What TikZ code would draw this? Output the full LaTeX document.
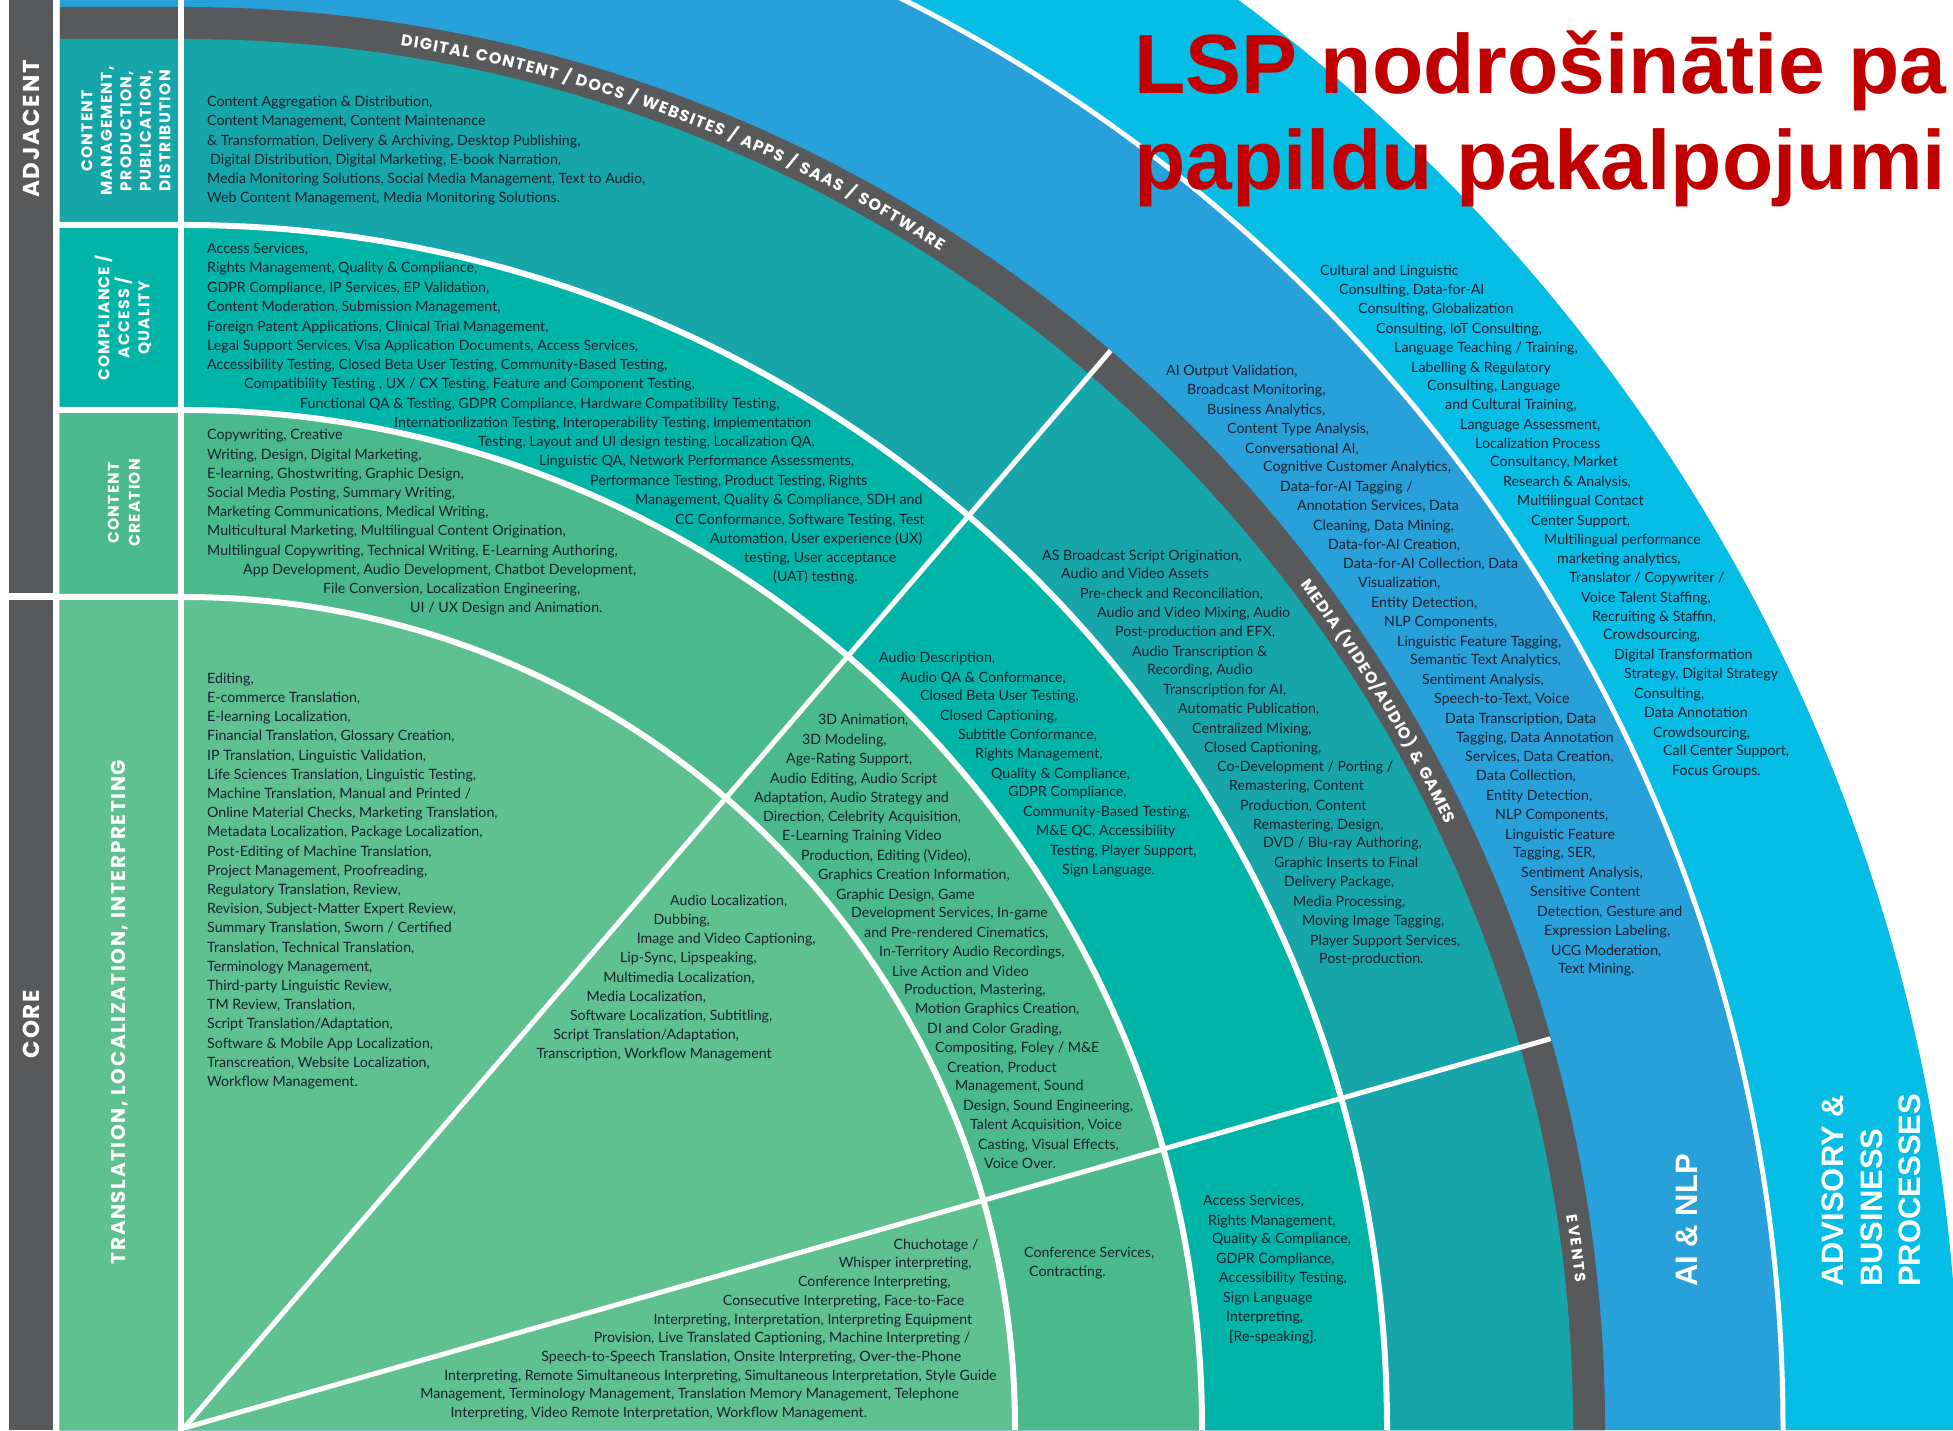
\documentclass[tikz,border=0pt]{standalone}
\usepackage{fontspec}
\setmainfont{Lato}
\newfontfamily\lblfont[LetterSpace=8]{Poppins}
\newfontfamily\gbfont{Poppins}
\newfontfamily\titlefont{Liberation Sans}
\usetikzlibrary{decorations.text}
\definecolor{cCyan}{RGB}{6,189,230}
\definecolor{cBlue}{RGB}{40,160,218}
\definecolor{cGrey}{RGB}{88,89,91}
\definecolor{cTealD}{RGB}{22,165,168}
\definecolor{cTeal}{RGB}{0,181,168}
\definecolor{cGreenB}{RGB}{74,186,141}
\definecolor{cGreenA}{RGB}{95,192,144}
\definecolor{cRed}{RGB}{192,0,0}
\definecolor{cText}{RGB}{24,32,46}
\newcommand\Ln[3]{\node[bodytxt,anchor=west] at (#1,#2) {#3};}
\newcommand\ringfill[2]{\fill[#1] (-124,-2) -- (-124,#2) -- (0,#2) arc[start angle=90,end angle=0,radius=#2] -- (#2,-2) -- cycle;}
\begin{document}
\begin{tikzpicture}[x=1pt,y=1pt,
  bodytxt/.style={font=\fontsize{14.2}{16}\selectfont, text=cText, inner sep=0pt, text height=9.5pt, text depth=3pt},
  collbl/.style={rotate=90, text=white, align=center, inner sep=0pt},
  bandtxt/.style={decorate, decoration={text along path, text color=white, text align={fit to path}}}]
\useasboundingbox (-184,-2) rectangle (1769,1428);
\clip (-184,-2) rectangle (1769,1428);
\fill[white] (-184,-2) rectangle (1769,1428);
% rings
\fill[cCyan] (0,-2) -- (1775,-2) -- (1775,0) arc[start angle=0,end angle=90,radius=1775] -- cycle;
\ringfill{cBlue}{1599}
\ringfill{cGrey}{1421}
\ringfill{cTealD}{1389}
\ringfill{cTeal}{1203}
\ringfill{cGreenB}{1018}
\ringfill{cGreenA}{831}
% white separators
\draw[white,line width=5pt] (1599,-2) -- (1599,0) arc[start angle=0,end angle=90,radius=1599];
\foreach \r in {831,1018,1203} {\draw[white,line width=6pt] (-128,\r) -- (0,\r) arc[start angle=90,end angle=0,radius=\r] -- (\r,-2);}
\draw[white,line width=6pt] (-3,-4) -- (-3,1432);
\draw[white,line width=5pt] (0,0) -- (49.3:1421);
\draw[white,line width=5pt] (0,0) -- (15.9:1421);
% left bars
\fill[cGrey] (-175,835) rectangle (-131,1430);
\fill[cGrey] (-175,-2) rectangle (-131,828);
% grey band texts
\path[bandtxt, decoration={text={|\gbfont\bfseries\fontsize{16}{16}\selectfont|DIGITAL CONTENT / DOCS / WEBSITES / APPS / SAAS / SOFTWARE}}] (81.1:1399) arc[start angle=81.1,end angle=57.3,radius=1399];
\path[bandtxt, decoration={text={|\gbfont\bfseries\fontsize{16}{16}\selectfont|MEDIA (VIDEO/AUDIO) {\&} GAMES}}] (37.06:1399) arc[start angle=37.06,end angle=25.56,radius=1399];
\path[bandtxt, decoration={text={|\gbfont\bfseries\fontsize{15}{15}\selectfont|EVENTS}}] (8.72:1399) arc[start angle=8.72,end angle=5.97,radius=1399];
% column labels
\node[collbl, font=\lblfont\bfseries\fontsize{23}{23}\selectfont] (adj) at (-153,1299) {ADJACENT};
\node[collbl, font=\lblfont\bfseries\fontsize{23}{23}\selectfont] (core) at (-153,404) {CORE};
\node[collbl, font=\lblfont\bfseries\fontsize{15.5}{19.5}\selectfont] (cm) at (-58,1297) {CONTENT\\MANAGEMENT,\\PRODUCTION,\\PUBLICATION,\\DISTRIBUTION};
\node[collbl, font=\lblfont\bfseries\fontsize{15.5}{20}\selectfont] (caq) at (-61,1110) {COMPLIANCE /\\ACCESS /\\QUALITY};
\node[collbl, font=\lblfont\bfseries\fontsize{15.5}{21}\selectfont] (cc) at (-60,925) {CONTENT\\CREATION};
\node[collbl, font=\lblfont\bfseries\fontsize{20}{22}\selectfont] (tli) at (-64,416) {TRANSLATION, LOCALIZATION, INTERPRETING};
% outer band labels
\node[rotate=90, anchor=base west, inner sep=0pt, text=white, font=\titlefont\bfseries\fontsize{31}{31}\selectfont] (ainlp) at (1513,141) {AI \& NLP};
\node[rotate=90, anchor=base west, inner sep=0pt, text=white, font=\titlefont\bfseries\fontsize{31}{31}\selectfont] (adv1) at (1659,141) {ADVISORY \&};
\node[rotate=90, anchor=base west, inner sep=0pt, text=white, font=\titlefont\bfseries\fontsize{31}{31}\selectfont] (adv2) at (1698,141) {BUSINESS};
\node[rotate=90, anchor=base west, inner sep=0pt, text=white, font=\titlefont\bfseries\fontsize{31}{31}\selectfont] (adv3) at (1736,141) {PROCESSES};
% body texts in image coordinates
\begin{scope}[shift={(-184,1428)}, yscale=-1]
% content management
\Ln{207}{103}{Content Aggregation \& Distribution,}
\Ln{207}{122}{Content Management, Content Maintenance}
\Ln{207}{142}{\& Transformation, Delivery \& Archiving, Desktop Publishing,}
\Ln{210}{161}{Digital Distribution, Digital Marketing, E-book Narration,}
\Ln{207}{180}{Media Monitoring Solutions, Social Media Management, Text to Audio,}
\Ln{207}{199}{Web Content Management, Media Monitoring Solutions.}
% compliance
\Ln{207}{250}{Access Services,}
\Ln{207}{269}{Rights Management, Quality \& Compliance,}
\Ln{207}{289}{GDPR Compliance, IP Services, EP Validation,}
\Ln{207}{308}{Content Moderation, Submission Management,}
\Ln{207}{328}{Foreign Patent Applications, Clinical Trial Management,}
\Ln{207}{347}{Legal Support Services, Visa Application Documents, Access Services,}
\Ln{207}{366}{Accessibility Testing, Closed Beta User Testing, Community-Based Testing,}
\Ln{244}{385}{Compatibility Testing , UX / CX Testing, Feature and Component Testing,}
\Ln{300}{405}{Functional QA \& Testing, GDPR Compliance, Hardware Compatibility Testing,}
\Ln{394}{424}{Internationlization Testing, Interoperability Testing, Implementation}
\Ln{478}{443}{Testing, Layout and UI design testing, Localization QA,}
\Ln{539}{462}{Linguistic QA, Network Performance Assessments,}
\Ln{590}{482}{Performance Testing, Product Testing, Rights}
\Ln{635}{501}{Management, Quality \& Compliance, SDH and}
\Ln{675}{521}{CC Conformance, Software Testing, Test}
\Ln{710}{540}{Automation, User experience (UX)}
\Ln{744}{559}{testing, User acceptance}
\Ln{773}{578}{(UAT) testing.}
% content creation
\Ln{207}{436}{Copywriting, Creative}
\Ln{207}{456}{Writing, Design, Digital Marketing,}
\Ln{207}{475}{E-learning, Ghostwriting, Graphic Design,}
\Ln{207}{494}{Social Media Posting, Summary Writing,}
\Ln{207}{513}{Marketing Communications, Medical Writing,}
\Ln{207}{532}{Multicultural Marketing, Multilingual Content Origination,}
\Ln{207}{552}{Multilingual Copywriting, Technical Writing, E-Learning Authoring,}
\Ln{243}{571}{App Development, Audio Development, Chatbot Development,}
\Ln{323}{590}{File Conversion, Localization Engineering,}
\Ln{410}{609}{UI / UX Design and Animation.}
% translation core
\foreach \t [count=\i from 0] in {{Editing,},{E-commerce Translation,},{E-learning Localization,},{Financial Translation, Glossary Creation,},{IP Translation, Linguistic Validation,},{Life Sciences Translation, Linguistic Testing,},{Machine Translation, Manual and Printed /},{Online Material Checks, Marketing Translation,},{Metadata Localization,  Package Localization,},{Post-Editing of Machine Translation,},{Project Management, Proofreading,},{Regulatory Translation, Review,},{Revision, Subject-Matter Expert Review,},{Summary Translation, Sworn / Certified},{Translation, Technical Translation,},{Terminology Management,},{Third-party Linguistic Review,},{TM Review, Translation,},{Script Translation/Adaptation,},{Software \& Mobile App Localization,},{Transcreation, Website Localization,},{Workflow Management.}}
  {\node[bodytxt,anchor=west] at (207,{680+19.2*\i}) {\t};}
% audio localization (core)
\foreach \t [count=\i from 0] in {{Audio Localization,},{Dubbing,},{Image and Video Captioning,},{Lip-Sync, Lipspeaking,},{Multimedia Localization,},{Media Localization,},{Software Localization, Subtitling,},{Script Translation/Adaptation,},{Transcription, Workflow Management}}
  {\node[bodytxt,anchor=west] at ({670-16.7*\i},{902+19.2*\i}) {\t};}
% interpreting (core)
\foreach \t [count=\i from 0] in {{Chuchotage /},{Whisper interpreting,},{Conference Interpreting,},{Consecutive Interpreting, Face-to-Face},{Interpreting, Interpretation, Interpreting Equipment},{Provision, Live Translated Captioning, Machine Interpreting /},{Speech-to-Speech Translation, Onsite Interpreting, Over-the-Phone},{Interpreting, Remote Simultaneous Interpreting, Simultaneous Interpretation, Style Guide},{Management, Terminology Management, Translation Memory Management,  Telephone},{Interpreting, Video Remote Interpretation, Workflow Management.}}
  {\node[bodytxt,anchor=center] at ({936-30.8*\i},{1246+18.7*\i}) {\t};}
% media creation
\Ln{818}{721}{3D Animation,}
\Ln{802}{741}{3D Modeling,}
\Ln{786}{760}{Age-Rating Support,}
\Ln{770}{780}{Audio Editing, Audio Script}
\Ln{754}{799}{Adaptation, Audio Strategy and}
\Ln{763}{818}{Direction, Celebrity Acquisition,}
\Ln{782}{837}{E-Learning Training Video}
\Ln{801}{857}{Production, Editing (Video),}
\Ln{818}{876}{Graphics Creation Information,}
\Ln{836}{896}{Graphic Design, Game}
\Ln{851}{914}{Development Services, In-game}
\Ln{864}{934}{and Pre-rendered Cinematics,}
\Ln{879}{953}{In-Territory Audio Recordings,}
\Ln{892}{973}{Live Action and Video}
\Ln{904}{991}{Production, Mastering,}
\Ln{915}{1010}{Motion Graphics Creation,}
\Ln{927}{1030}{DI and Color Grading,}
\Ln{935}{1049}{Compositing, Foley / M\&E}
\Ln{947}{1069}{Creation, Product}
\Ln{955}{1087}{Management, Sound}
\Ln{963}{1107}{Design, Sound Engineering,}
\Ln{970}{1126}{Talent Acquisition, Voice}
\Ln{978}{1146}{Casting, Visual Effects,}
\Ln{984}{1165}{Voice Over.}
% media compliance
\Ln{879}{659}{Audio Description,}
\Ln{900}{679}{Audio QA \& Conformance,}
\Ln{920}{697}{Closed Beta User Testing,}
\Ln{940}{717}{Closed Captioning,}
\Ln{958}{736}{Subtitle Conformance,}
\Ln{975}{755}{Rights Management,}
\Ln{991}{775}{Quality \& Compliance,}
\Ln{1008}{793}{GDPR Compliance,}
\Ln{1023}{813}{Community-Based Testing,}
\Ln{1036}{832}{M\&E QC, Accessibility}
\Ln{1050}{852}{Testing, Player Support,}
\Ln{1062}{871}{Sign Language.}
% media management
\Ln{1042}{557}{AS Broadcast Script Origination,}
\Ln{1061}{575}{Audio and Video Assets}
\Ln{1080}{595}{Pre-check and Reconciliation,}
\Ln{1097}{614}{Audio and Video Mixing, Audio}
\Ln{1115}{633}{Post-production and EFX,}
\Ln{1132}{653}{Audio Transcription \&}
\Ln{1147}{671}{Recording, Audio}
\Ln{1163}{691}{Transcription for AI,}
\Ln{1178}{710}{Automatic Publication,}
\Ln{1192}{730}{Centralized Mixing,}
\Ln{1204}{749}{Closed Captioning,}
\Ln{1217}{768}{Co-Development / Porting /}
\Ln{1229}{787}{Remastering, Content}
\Ln{1240}{807}{Production, Content}
\Ln{1253}{826}{Remastering, Design,}
\Ln{1263}{844}{DVD / Blu-ray Authoring,}
\Ln{1274}{864}{Graphic Inserts to Final}
\Ln{1284}{883}{Delivery Package,}
\Ln{1293}{903}{Media Processing,}
\Ln{1302}{922}{Moving Image Tagging,}
\Ln{1310}{942}{Player Support Services,}
\Ln{1319}{960}{Post-production.}
% AI & NLP
\Ln{1166}{372}{AI Output Validation,}
\Ln{1187}{391}{Broadcast Monitoring,}
\Ln{1207}{411}{Business Analytics,}
\Ln{1227}{430}{Content Type Analysis,}
\Ln{1245}{450}{Conversational AI,}
\Ln{1263}{468}{Cognitive Customer Analytics,}
\Ln{1280}{488}{Data-for-AI Tagging /}
\Ln{1297}{507}{Annotation Services, Data}
\Ln{1313}{527}{Cleaning, Data Mining,}
\Ln{1328}{546}{Data-for-AI Creation,}
\Ln{1343}{565}{Data-for-AI Collection, Data}
\Ln{1358}{584}{Visualization,}
\Ln{1371}{604}{Entity Detection,}
\Ln{1384}{623}{NLP Components,}
\Ln{1397}{643}{Linguistic Feature Tagging,}
\Ln{1410}{661}{Semantic Text Analytics,}
\Ln{1422}{681}{Sentiment Analysis,}
\Ln{1434}{700}{Speech-to-Text, Voice}
\Ln{1445}{720}{Data Transcription, Data}
\Ln{1456}{739}{Tagging, Data Annotation}
\Ln{1465}{758}{Services, Data Creation,}
\Ln{1476}{777}{Data Collection,}
\Ln{1486}{797}{Entity Detection,}
\Ln{1495}{816}{NLP Components,}
\Ln{1505}{836}{Linguistic Feature}
\Ln{1513}{854}{Tagging, SER,}
\Ln{1521}{874}{Sentiment Analysis,}
\Ln{1530}{893}{Sensitive Content}
\Ln{1537}{913}{Detection, Gesture and}
\Ln{1544}{932}{Expression Labeling,}
\Ln{1551}{952}{UCG Moderation,}
\Ln{1558}{970}{Text Mining.}
% advisory
\Ln{1320}{272}{Cultural and Linguistic}
\Ln{1339}{291}{Consulting, Data-for-AI}
\Ln{1358}{310}{Consulting, Globalization}
\Ln{1376}{330}{Consulting, IoT Consulting,}
\Ln{1394}{349}{Language Teaching / Training,}
\Ln{1411}{369}{Labelling \& Regulatory}
\Ln{1427}{387}{Consulting, Language}
\Ln{1445}{406}{and Cultural Training,}
\Ln{1460}{426}{Language Assessment,}
\Ln{1475}{445}{Localization Process}
\Ln{1490}{463}{Consultancy, Market}
\Ln{1503}{483}{Research \& Analysis,}
\Ln{1517}{502}{Multilingual Contact}
\Ln{1531}{522}{Center Support,}
\Ln{1544}{541}{Multilingual performance}
\Ln{1557}{560}{marketing analytics,}
\Ln{1569}{579}{Translator / Copywriter /}
\Ln{1581}{599}{Voice Talent Staffing,}
\Ln{1592}{618}{Recruiting \& Staffin,}
\Ln{1603}{636}{Crowdsourcing,}
\Ln{1614}{656}{Digital Transformation}
\Ln{1624}{675}{Strategy, Digital Strategy}
\Ln{1634}{695}{Consulting,}
\Ln{1644}{714}{Data Annotation}
\Ln{1653}{734}{Crowdsourcing,}
\Ln{1663}{752}{Call Center Support,}
\Ln{1672}{772}{Focus Groups.}
% events
\Ln{1024}{1254}{Conference Services,}
\Ln{1029}{1273}{Contracting.}
\Ln{1203}{1202}{Access Services,}
\Ln{1208}{1222}{Rights Management,}
\Ln{1212}{1240}{Quality \& Compliance,}
\Ln{1216}{1260}{GDPR Compliance,}
\Ln{1219}{1279}{Accessibility Testing,}
\Ln{1223}{1299}{Sign Language}
\Ln{1226}{1318}{Interpreting,}
\Ln{1229}{1338}{[Re-speaking].}
\end{scope}
% title
\node[anchor=base west, inner sep=0pt, text=cRed, font=\titlefont\bfseries\fontsize{84}{96}\selectfont] (t1) at (950,1334) {LSP nodrošinātie pa};
\node[anchor=base west, inner sep=0pt, text=cRed, font=\titlefont\bfseries\fontsize{84}{96}\selectfont] (t2) at (950,1238) {papildu pakalpojumi};
\end{tikzpicture}
\end{document}
